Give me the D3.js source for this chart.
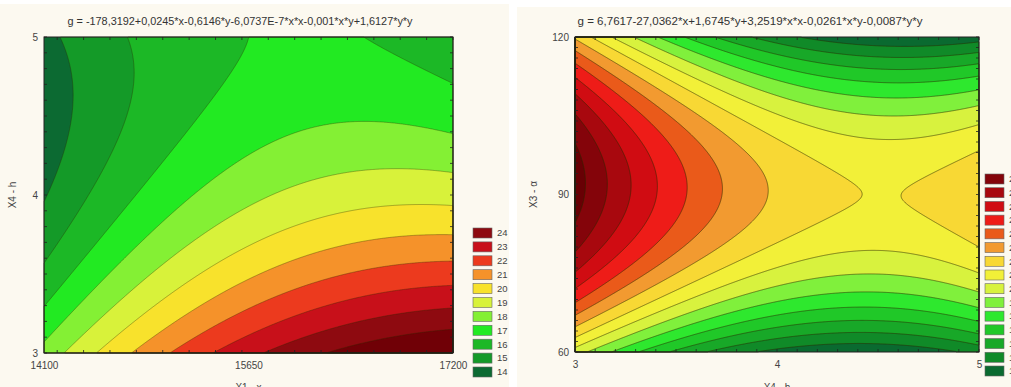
<!DOCTYPE html>
<html>
<head>
<meta charset="utf-8">
<script src="https://cdn.jsdelivr.net/npm/d3@7"></script>
<style>
	body { margin: 0; background: #fff; }
	svg { display: block; font-family: "Liberation Sans", Arial, sans-serif; }
</style>
</head>
<body>
<script>
// fitted surfaces, coefficients as printed in the titles (last digits):
// g = b0 + b1*x + b2*y + b3*x*x + b4*x*y + b5*y*y
var leftCoef = [-178.3192, 0.024542, -0.6146, -6.0737e-7, -0.001, 1.6127];
var rightCoef = [6.7617, -27.0362, 1.6745, 3.2519, -0.0261, -0.008656];

var leftTitle = 'g = -178,3192+0,0245*x-0,6146*y-6,0737E-7*x*x-0,001*x*y+1,6127*y*y';
var rightTitle = 'g = 6,7617-27,0362*x+1,6745*y+3,2519*x*x-0,0261*x*y-0,0087*y*y';

var leftXDomain = [14100, 17200];
var leftYDomain = [3, 5];
var leftXTicks = [14100, 15650, 17200];
var leftYTicks = [3, 4, 5];
var leftXLabel = 'X1 - x';
var leftYLabel = 'X4 - h';

var rightXDomain = [3, 5];
var rightYDomain = [60, 120];
var rightXTicks = [3, 4, 5];
var rightYTicks = [60, 90, 120];
var rightXLabel = 'X4 - h';
var rightYLabel = 'X3 - α';

// contour levels = legend labels
var leftLevels = [14, 15, 16, 17, 18, 19, 20, 21, 22, 23, 24];
var rightLevels = [14, 15, 16, 17, 18, 19, 20, 21, 22, 23, 24, 25, 26, 27, 28];

// band colours, lowest band first; the last one is "above the top level"
var leftColors = ['#0c6a32', '#149a28', '#1cb826', '#22ea22', '#84f034', '#d8f23a',
	'#f8e22c', '#f5922a', '#ec3a1e', '#c8101a', '#8e0a10', '#700006'];
var rightColors = ['#0a6a30', '#108a28', '#18a828', '#20c828', '#2ee82e', '#80f03c',
	'#d8f23e', '#f2f038', '#f8d834', '#f29a30', '#ea5a1a', '#ee1c18', '#d00c12',
	'#a8080e', '#84040a', '#680004'];

var W = 1011, H = 387;

var svg = d3.select('body')
	.append('svg')
	.attr('width', W)
	.attr('height', H);

// the two panels sit on cream backgrounds with a white gap between
svg.append('rect')
	.attr('x', 0).attr('y', 4)
	.attr('width', 509).attr('height', H - 4)
	.attr('fill', '#fcf9f0');
svg.append('rect')
	.attr('x', 517).attr('y', 7)
	.attr('width', W - 517).attr('height', H - 7)
	.attr('fill', '#fcf9f0');

function poly(c, x, y){
	return c[0] + c[1]*x + c[2]*y + c[3]*x*x + c[4]*x*y + c[5]*y*y;
}

function drawPanel(o){
	var g = svg.append('g');

	var x = d3.scaleLinear().domain(o.xDomain).range([o.x0, o.x1]);
	var y = d3.scaleLinear().domain(o.yDomain).range([o.y1, o.y0]);

	// sample the surface once per pixel
	var nx = Math.round(o.x1 - o.x0),
		ny = Math.round(o.y1 - o.y0);
	var values = new Array(nx * ny);
	for (var j = 0; j < ny; j++) {
		for (var i = 0; i < nx; i++) {
			values[j * nx + i] = poly(o.coef, x.invert(o.x0 + i + 0.5), y.invert(o.y0 + j + 0.5));
		}
	}
	var bands = d3.contours()
		.size([nx, ny])
		.thresholds(o.levels)(values);
	var path = d3.geoPath(d3.geoIdentity().translate([o.x0, o.y0]));

	g.append('rect')
		.attr('x', o.x0).attr('y', o.y0)
		.attr('width', nx).attr('height', ny)
		.attr('fill', o.colors[0]);

	g.append('g')
		.selectAll('path')
		.data(bands).enter()
		.append('path')
		.attr('d', path)
		.attr('fill', function(d, k){ return o.colors[k + 1]; });

	g.append('g')
		.selectAll('path')
		.data(bands).enter()
		.append('path')
		.attr('d', path)
		.attr('fill', 'none')
		.attr('stroke', '#2a2a00')
		.attr('stroke-opacity', o.lineOpacity)
		.attr('stroke-width', 0.8);

	// frame and small inner ticks
	g.append('rect')
		.attr('x', o.x0).attr('y', o.y0)
		.attr('width', nx).attr('height', ny)
		.attr('fill', 'none')
		.attr('stroke', '#222')
		.attr('stroke-width', 1);

	var minor = g.append('g').attr('stroke', '#222').attr('stroke-width', 0.8);
	x.ticks(o.xMinor).forEach(function(t){
		minor.append('line').attr('x1', x(t)).attr('x2', x(t)).attr('y1', o.y0).attr('y2', o.y0 + 3);
		minor.append('line').attr('x1', x(t)).attr('x2', x(t)).attr('y1', o.y1).attr('y2', o.y1 - 3);
	});
	y.ticks(o.yMinor).forEach(function(t){
		minor.append('line').attr('y1', y(t)).attr('y2', y(t)).attr('x1', o.x0).attr('x2', o.x0 + 3);
		minor.append('line').attr('y1', y(t)).attr('y2', y(t)).attr('x1', o.x1).attr('x2', o.x1 - 3);
	});

	// axes: labels only
	var xAxis = g.append('g')
		.attr('transform', 'translate(0,' + o.y1 + ')')
		.call(d3.axisBottom(x).tickValues(o.xTicks).tickSize(0).tickPadding(9).tickFormat(d3.format('d')));
	var yAxis = g.append('g')
		.attr('transform', 'translate(' + o.x0 + ',0)')
		.call(d3.axisLeft(y).tickValues(o.yTicks).tickSize(0).tickPadding(6).tickFormat(d3.format('d')));
	[xAxis, yAxis].forEach(function(a){
		a.select('.domain').remove();
		a.attr('font-family', null).attr('font-size', 10);
		a.selectAll('text').attr('fill', '#444');
	});

	g.append('text')
		.attr('x', (o.x0 + o.x1) / 2)
		.attr('y', 391)
		.attr('text-anchor', 'middle')
		.attr('font-size', 10)
		.attr('fill', '#444')
		.text(o.xLabel);

	g.append('text')
		.attr('transform', 'translate(' + o.yLabelX + ',' + ((o.y0 + o.y1) / 2) + ') rotate(-90)')
		.attr('text-anchor', 'middle')
		.attr('font-size', 10)
		.attr('fill', '#444')
		.text(o.yLabel);

	g.append('text')
		.attr('x', o.titleX)
		.attr('y', 25)
		.attr('text-anchor', 'middle')
		.attr('font-size', 10)
		.attr('textLength', 345)
		.attr('lengthAdjust', 'spacingAndGlyphs')
		.attr('fill', '#333')
		.text(o.title);

	// legend: one box per level, top level at the top
	var ly = d3.scaleLinear()
		.domain([o.levels[0], o.levels[o.levels.length - 1]])
		.range(o.legendY);
	var legend = g.append('g')
		.selectAll('g')
		.data(o.levels).enter()
		.append('g')
		.attr('transform', function(d){ return 'translate(' + o.legendX + ',' + ly(d) + ')'; });
	legend.append('rect')
		.attr('x', 0).attr('y', -5)
		.attr('width', 19).attr('height', 10)
		.attr('fill', function(d, k){ return o.colors[k]; })
		.attr('stroke', '#666')
		.attr('stroke-width', 0.6);
	legend.append('text')
		.attr('x', 24)
		.attr('dy', '0.35em')
		.attr('font-size', 9.5)
		.attr('fill', '#444')
		.text(function(d){ return d; });
}

drawPanel({
	coef: leftCoef, title: leftTitle, titleX: 240,
	xDomain: leftXDomain, yDomain: leftYDomain,
	xTicks: leftXTicks, yTicks: leftYTicks, xMinor: 20, yMinor: 20,
	xLabel: leftXLabel, yLabel: leftYLabel, yLabelX: 16,
	levels: leftLevels, colors: leftColors, lineOpacity: 0.45,
	x0: 44, x1: 453, y0: 37, y1: 353,
	legendX: 473, legendY: [372, 233]
});

drawPanel({
	coef: rightCoef, title: rightTitle, titleX: 750,
	xDomain: rightXDomain, yDomain: rightYDomain,
	xTicks: rightXTicks, yTicks: rightYTicks, xMinor: 20, yMinor: 20,
	xLabel: rightXLabel, yLabel: rightYLabel, yLabelX: 537,
	levels: rightLevels, colors: rightColors, lineOpacity: 0.7,
	x0: 575, x1: 979, y0: 37, y1: 352,
	legendX: 985, legendY: [371, 179]
});
</script>
</body>
</html>
